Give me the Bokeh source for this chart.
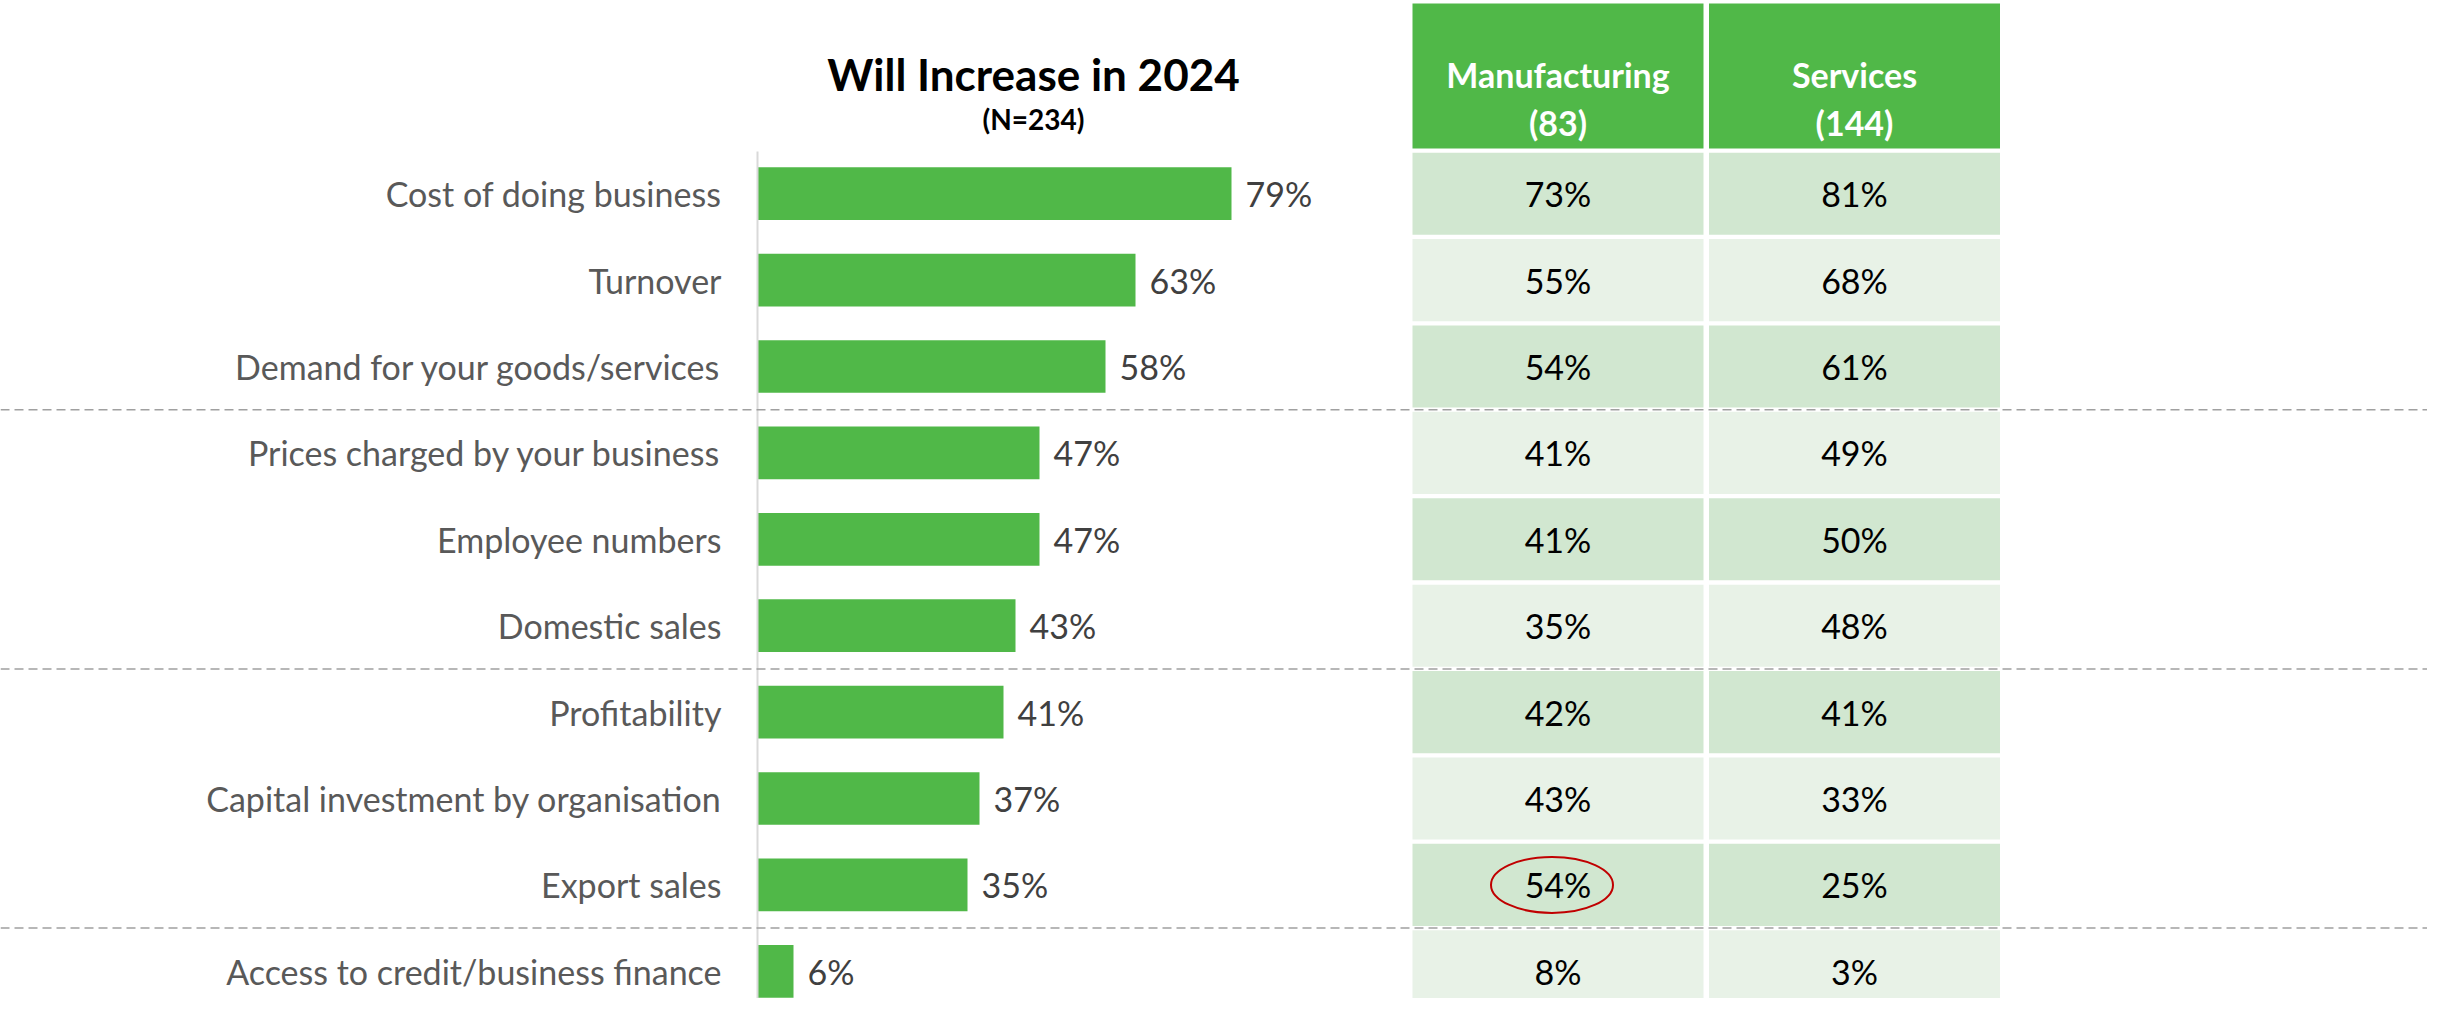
from bokeh.plotting import figure
from bokeh.models import Range1d, Span, ColumnDataSource
from bokeh.core.properties import value
from bokeh.embed import file_html
from bokeh.resources import INLINE

# ---------------- data ----------------
categories = ["Cost of doing business", "Turnover", "Demand for your goods/services",
              "Prices charged by your business", "Employee numbers", "Domestic sales",
              "Profitability", "Capital investment by organisation", "Export sales",
              "Access to credit/business finance"]
overall = [79, 63, 58, 47, 47, 43, 41, 37, 35, 6]
manufacturing = [73, 55, 54, 41, 41, 35, 42, 43, 54, 8]
services = [81, 68, 61, 49, 50, 48, 41, 33, 25, 3]
column_names = ["Manufacturing", "Services"]
column_n = [83, 144]
title_text = "Will Increase in 2024"
subtitle_text = "(N=234)"
group_breaks = [3, 6, 9]          # dashed separators before these rows
highlight = ("Manufacturing", "Export sales")

# ---------------- layout constants ----------------
W, H = 2427, 998
PX_PER_PCT = 6.0
AXIS_PX = 757.0
ROW_PX = 86.4
ROW0_PX = 193.2
x0 = -AXIS_PX / PX_PER_PCT
x1 = x0 + W / PX_PER_PCT
ytop = -ROW0_PX / ROW_PX
ybot = ytop + H / ROW_PX


def ypx(py):
    return py / ROW_PX + ytop


def xpx(px):
    return (px - AXIS_PX) / PX_PER_PCT


FONT = "Lato"
GREEN = "#50B848"
DARK_CELL = "#D1E7D0"
LIGHT_CELL = "#E8F2E7"
FS = value("34px")

p = figure(width=W, height=H, x_range=Range1d(x0, x1), y_range=Range1d(ybot, ytop),
           output_backend="svg", toolbar_location=None, min_border=0,
           outline_line_color=None, title=None)
p.axis.visible = False
p.grid.visible = False
p.background_fill_color = "white"
p.border_fill_color = "white"

rows = list(range(len(categories)))

# bars
src = ColumnDataSource(dict(y=rows, v=overall, cat=categories,
                            lab=[f"{v}%" for v in overall]))
p.hbar(y="y", left=0, right="v", height=0.61, source=src, fill_color=GREEN,
       line_color=None)

# axis line
p.segment(x0=[0], y0=[ypx(151)], x1=[0], y1=[ybot + 1],
          line_color="#D9D9D9", line_width=2)

# category labels
p.text(x=0, y="y", text="cat", source=src, x_offset=-36, text_align="right",
       text_baseline="middle", text_font=value(FONT), text_font_size=FS,
       text_color="#595959")
# value labels
p.text(x="v", y="y", text="lab", source=src, x_offset=14, text_align="left",
       text_baseline="middle", text_font=value(FONT), text_font_size=FS,
       text_color="#404040")

# title
bar_center = xpx(1033)
p.text(x=[bar_center], y=[ypx(73)], text=[title_text],
       text_align="center", text_baseline="middle", text_font=value(FONT),
       text_font_style="bold", text_font_size=value("44px"), text_color="black")
p.text(x=[bar_center], y=[ypx(118)], text=[subtitle_text],
       text_align="center", text_baseline="middle", text_font=value(FONT),
       text_font_style="bold", text_font_size=value("28px"), text_color="black")

# table
col_w = 291 / PX_PER_PCT
col_centers = [xpx(1557.5), xpx(1854)]
head_top = ypx(3)
head_bot = ypx(148)
p.quad(left=[c - col_w / 2 for c in col_centers], right=[c + col_w / 2 for c in col_centers],
       top=[head_top] * 2, bottom=[head_bot] * 2, fill_color=GREEN, line_color=None)
p.text(x=col_centers, y=[ypx(74)] * 2, text=column_names,
       text_align="center", text_baseline="middle", text_font=value(FONT),
       text_font_style="bold", text_font_size=FS, text_color="white")
p.text(x=col_centers, y=[ypx(122)] * 2, text=[f"({n})" for n in column_n],
       text_align="center", text_baseline="middle", text_font=value(FONT),
       text_font_style="bold", text_font_size=FS, text_color="white")

for ci, vals in enumerate([manufacturing, services]):
    c = col_centers[ci]
    csrc = ColumnDataSource(dict(
        y=rows, lab=[f"{v}%" for v in vals],
        fill=[DARK_CELL if i % 2 == 0 else LIGHT_CELL for i in rows]))
    p.rect(x=c, y="y", width=col_w, height=0.95, source=csrc, fill_color="fill",
           line_color=None)
    p.text(x=c, y="y", text="lab", source=csrc, text_align="center",
           text_baseline="middle", text_font=value(FONT), text_font_size=FS,
           text_color="black")

# highlight ellipse
hc = col_centers[column_names.index(highlight[0])]
hr = categories.index(highlight[1])
p.ellipse(x=[hc - 1], y=[hr], width=[122], height=[56], width_units="screen",
          height_units="screen", fill_color=None, line_color="#C00000", line_width=2)

# group separators
for b in group_breaks:
    p.add_layout(Span(location=b - 0.5, dimension="width", line_color="#A0A0A0",
                      line_width=1.5, line_dash="9 5"))

open("out.html", "w").write(file_html(p, INLINE))
